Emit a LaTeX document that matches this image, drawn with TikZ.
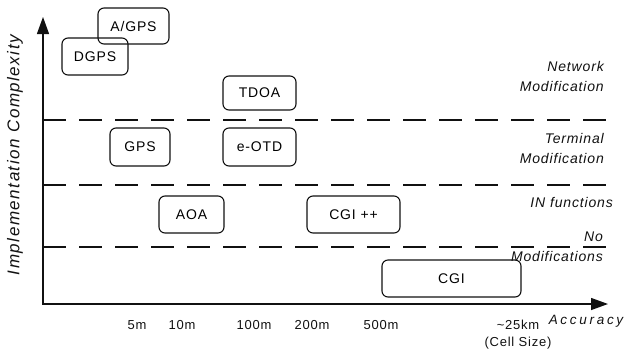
\documentclass[tikz,border=0pt]{standalone}
\usepackage{fontspec}
\setmainfont{Liberation Sans}
\newfontfamily\boxfont[LetterSpace=6]{Liberation Sans}
\newfontfamily\notefont[LetterSpace=6]{Liberation Sans}
\newfontfamily\ylabfont[LetterSpace=9]{Liberation Sans}
\newfontfamily\wideitfont[LetterSpace=20]{Liberation Sans}
\usetikzlibrary{arrows.meta, positioning}
\definecolor{mInk}{HTML}{111111}

\begin{document}
\begin{tikzpicture}[x=1pt, y=-1pt,
    box/.style={draw=mInk, line width=1.1pt, rounded corners=6pt, inner sep=0pt,
      font=\fontsize{14}{16}\selectfont\boxfont},
    note/.style={anchor=east, align=right, inner sep=0pt, text=mInk,
      font=\fontsize{14}{20}\selectfont\notefont\itshape},
    tick/.style={inner sep=0pt, text=mInk, font=\fontsize{13}{15}\selectfont\notefont},
    level/.style={draw=mInk, line width=1.3pt, dash pattern=on 23pt off 13pt},
    axis/.style={draw=mInk, line width=1.3pt,
      {Triangle[length=17pt, width=12pt]}-{Triangle[length=17pt, width=12pt]}}]
  \useasboundingbox (0,0) rectangle (626,349);

  % axes
  \coordinate (ytip) at (43,17);
  \coordinate (origin) at (43,304);
  \coordinate (xtip) at (608,304);
  \draw[axis] (ytip) -- (origin) -- (xtip);
  \node[rotate=90, inner sep=0pt, text=mInk, font=\fontsize{17}{19}\selectfont\ylabfont\itshape]
    (ylab) at (15,155) {Implementation Complexity};
  \node[inner sep=0pt, text=mInk, font=\fontsize{13.5}{15}\selectfont\wideitfont\itshape]
    (xlab) at (586,321) {Accuracy};

  % level separators
  \foreach \y/\n in {120/a,185/b,247/c} {
    \coordinate (l\n) at (43,\y);
    \coordinate (r\n) at (608,\y);
    \draw[level] (l\n) -- (r\n);
  }

  % methods
  \node[box, minimum width=71pt, minimum height=36pt] (agps) at (133.5,26) {A/GPS};
  \node[box, minimum width=66pt, minimum height=37pt] (dgps) at (95,56.5) {DGPS};
  \node[box, minimum width=73pt, minimum height=34pt] (tdoa) at (259.5,93) {TDOA};
  \node[box, minimum width=60pt, minimum height=38pt] (gps) at (140,147) {GPS};
  \node[box, minimum width=73pt, minimum height=38pt] (eotd) at (259.5,147) {e-OTD};
  \node[box, minimum width=65pt, minimum height=37pt] (aoa) at (191.5,214.5) {AOA};
  \node[box, minimum width=93pt, minimum height=37pt] (cgipp) at (353.5,214.5) {CGI ++};
  \node[box, minimum width=139pt, minimum height=37pt] (cgi) at (451.5,278.5) {CGI};

  % level names
  \node[note] (netmod) at (604,76) {Network \\ Modification};
  \node[note] (termmod) at (604,148) {Terminal \\ Modification};
  \node[note] (infun) at (613,202) {IN functions};
  \node[note] (nomod) at (603,247) {No \\ Modifications};

  % accuracy ticks
  \foreach \x/\t/\n in {137/5m/a,182/10m/b,254/100m/c,312/200m/d,381/500m/e} {
    \node[tick] (t\n) at (\x,325) {\t};
  }
  \node[tick] (tcell) at (518,325) {\textasciitilde25km};
  \node[tick] (cellsize) at (518,343) {(Cell Size)};
\end{tikzpicture}
\end{document}
